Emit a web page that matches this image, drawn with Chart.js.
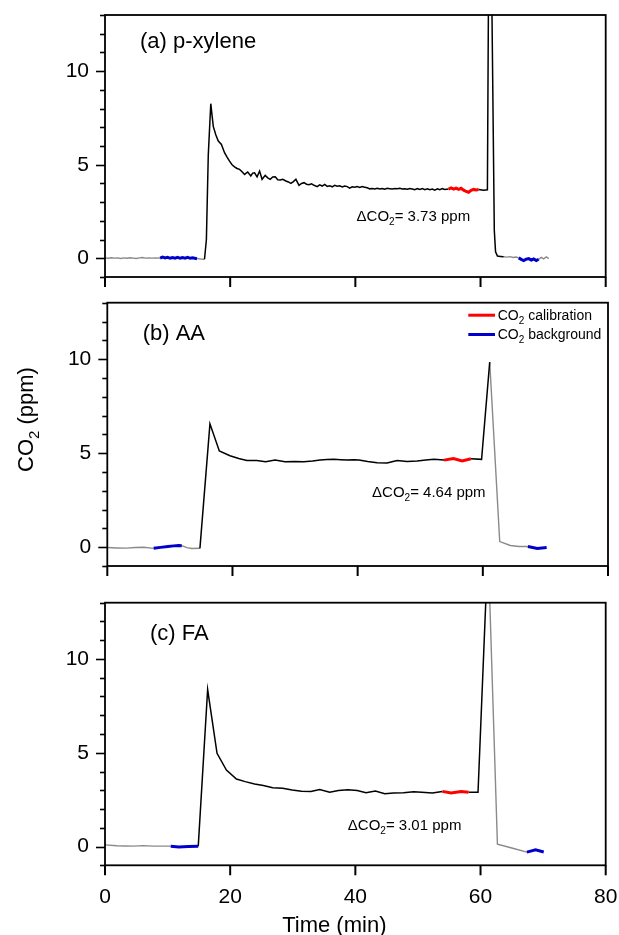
<!DOCTYPE html>
<html>
<head>
<meta charset="utf-8">
<script src="https://cdn.jsdelivr.net/npm/chart.js@4.4.1/dist/chart.umd.min.js"></script>
<style>
  html, body { margin: 0; padding: 0; background: #fff; }
  #fig { position: relative; width: 619px; height: 935px; }
  #fig canvas { position: absolute; left: 0; }
</style>
</head>
<body>
<div id="fig">
  <canvas id="panelA" width="619" height="290" style="top:0px"></canvas>
  <canvas id="panelB" width="619" height="290" style="top:290px"></canvas>
  <canvas id="panelC" width="619" height="355" style="top:580px"></canvas>
</div>
<script>
// ---- shared axis settings ----
const timeTicks = [0, 20, 40, 60, 80];
const co2LabelTicks = [0, 5, 10];

// ---- (a) p-xylene ----
const xyleneTime = [
  0.0, 0.5, 1.0, 1.5, 2.0, 2.5, 3.0, 3.5, 4.0, 4.5, 5.0, 5.5, 6.0, 6.5, 7.0, 7.5, 8.0, 8.8,
  9.2, 9.6, 10.0, 10.4, 10.8, 11.2, 11.6, 12.0, 12.4, 12.8, 13.2, 13.6, 14.0, 14.7,
  15.3, 15.9,
  16.2, 16.5, 16.9, 17.3, 17.7, 18.1, 18.6, 19.1, 19.5, 19.9, 20.3, 20.7, 21.1, 21.5, 21.9,
  22.3, 22.8, 23.3, 23.6, 23.9, 24.3, 24.7, 25.1, 25.6, 26.0, 26.4, 26.8, 27.2, 27.6, 28.0,
  28.4, 28.9, 29.3, 29.7, 30.1, 30.5, 31.0, 31.4, 31.8, 32.2, 32.6, 33.0, 33.4, 33.9, 34.3,
  34.7, 35.1, 35.5, 35.9, 36.3, 36.7, 37.1, 37.5, 37.9, 38.3, 38.7, 39.1, 39.5, 39.9, 40.3,
  40.7, 41.1, 41.5, 41.9, 42.3, 42.7, 43.1, 43.5, 43.9, 44.3, 44.7, 45.1, 45.5, 45.9, 46.3,
  46.7, 47.1, 47.5, 47.9, 48.3, 48.7, 49.1, 49.5, 49.9, 50.3, 50.7, 51.1, 51.5, 51.9, 52.3,
  52.7, 53.1, 53.5, 53.9, 54.3, 54.9,
  55.3, 55.7, 56.1, 56.5, 56.9, 57.3, 57.7, 58.1, 58.5, 58.9, 59.3, 59.7,
  60.5, 61.1, 61.45, 62.2, 62.4, 62.7, 63.2, 63.7,
  64.2, 64.7, 65.2, 65.7, 66.1,
  66.5, 66.9, 67.3, 67.7, 68.1, 68.5, 68.9, 69.3,
  69.7, 70.1, 70.5, 70.9
];
const xyleneCO2 = [
  0.02, 0.00, 0.03, 0.01, 0.02, -0.01, 0.02, 0.00, 0.03, 0.01, -0.01, 0.02, 0.04, 0.01, 0.02, 0.01, 0.02, 0.01,
  0.06, 0.02, 0.05, 0.00, 0.04, 0.01, 0.05, 0.00, 0.04, 0.01, 0.05, 0.00, 0.03, -0.02,
  -0.04, -0.05,
  1.00, 5.50, 8.26, 7.05, 6.60, 6.26, 6.08, 5.64, 5.40, 5.19, 5.00, 4.89, 4.80, 4.75, 4.62,
  4.48, 4.61, 4.40, 4.55, 4.57, 4.35, 4.66, 4.22, 4.43, 4.30, 4.22, 4.34, 4.36, 4.20, 4.18,
  4.22, 4.13, 4.08, 4.00, 4.10, 4.22, 3.90, 4.00, 4.04, 3.96, 3.93, 3.98, 3.90, 3.83, 3.92,
  3.86, 3.95, 3.84, 3.88, 3.82, 3.90, 3.85, 3.87, 3.81, 3.86, 3.83, 3.75, 3.82, 3.80, 3.84,
  3.79, 3.83, 3.80, 3.77, 3.71, 3.73, 3.70, 3.74, 3.70, 3.73, 3.69, 3.74, 3.72, 3.70, 3.73,
  3.71, 3.74, 3.70, 3.72, 3.69, 3.73, 3.70, 3.66, 3.72, 3.68, 3.73, 3.67, 3.71, 3.66, 3.70,
  3.64, 3.71, 3.66, 3.72, 3.68, 3.70,
  3.76, 3.70, 3.75, 3.68, 3.74, 3.64, 3.57, 3.53, 3.63, 3.68, 3.65, 3.67,
  3.64, 3.66, 25.0, 1.50, 0.35, 0.12, 0.10, 0.08,
  0.06, 0.09, 0.04, 0.07, 0.02,
  -0.06, -0.12, -0.05, -0.02, -0.10, -0.04, -0.12, -0.05,
  0.05, -0.03, 0.08, -0.02
];
const xyleneBackground = [[8.8, 14.7], [66.1, 69.3]];
const xyleneCalibration = [[54.9, 59.7]];
const xyleneSample = [[15.9, 63.7]];

// ---- (b) AA ----
const aaTime = [
  0.0, 1.5, 3.1, 4.5, 5.8, 7.4,
  8.5, 9.7, 10.6, 11.4, 11.9,
  12.7, 13.5, 14.8,
  16.4, 17.9, 19.6, 21.0, 22.3, 23.9, 25.3, 26.8, 28.4, 29.9, 31.4, 32.8, 34.0, 35.1, 36.2,
  37.3, 38.3, 39.4, 40.2, 41.6, 43.1, 44.7, 46.3, 47.9, 49.5, 50.9, 52.2, 53.8,
  55.3, 56.7, 58.1,
  59.8, 61.1,
  62.7, 64.4, 65.8, 67.2,
  68.7, 70.2
];
const aaCO2 = [
  -0.02, -0.04, -0.05, -0.02, 0.00, -0.06,
  -0.01, 0.04, 0.07, 0.09, 0.08,
  -0.02, -0.07, -0.06,
  6.56, 5.12, 4.86, 4.72, 4.61, 4.61, 4.54, 4.63, 4.54, 4.56, 4.54, 4.58, 4.63, 4.66, 4.67,
  4.65, 4.63, 4.65, 4.64, 4.56, 4.49, 4.48, 4.61, 4.56, 4.58, 4.63, 4.67, 4.63,
  4.71, 4.59, 4.70,
  4.67, 9.84,
  0.30, 0.09, 0.04, 0.04,
  -0.07, -0.02
];
const aaBackground = [[7.4, 11.9], [67.2, 70.2]];
const aaCalibration = [[53.8, 58.1]];
const aaSample = [[14.8, 61.1]];

// ---- (c) FA ----
const faTime = [
  0.0, 1.9, 3.2, 4.5, 6.1, 7.7, 9.0, 10.5,
  11.8, 13.3, 14.9,
  16.4, 17.9, 19.4, 21.0, 22.4, 23.9, 25.3, 26.8, 28.4, 29.9, 31.4, 32.9, 34.3, 35.9, 37.3,
  38.8, 40.3, 41.7, 43.2, 44.7, 46.1, 47.7, 49.3, 50.6, 52.3, 53.9,
  55.3, 56.9, 58.1,
  59.6, 61.2,
  62.7, 65.0, 67.4,
  68.8, 70.1
];
const faCO2 = [
  0.09, 0.04, 0.03, 0.02, 0.05, 0.02, 0.02, 0.02,
  -0.02, 0.00, 0.02,
  8.37, 4.97, 4.08, 3.60, 3.46, 3.34, 3.25, 3.14, 3.11, 3.02, 2.95, 2.93, 3.04, 2.89, 2.99,
  3.03, 2.99, 2.87, 2.96, 2.82, 2.85, 2.87, 2.92, 2.89, 2.85, 2.94,
  2.85, 2.94, 2.89,
  2.89, 16.0,
  0.13, -0.08, -0.30,
  -0.18, -0.29
];
const faBackground = [[10.5, 14.9], [67.4, 70.1]];
const faCalibration = [[53.9, 58.1]];
const faSample = [[14.9, 61.2]];

// ---- text ----
const panelTitles = ['(a) p-xylene', '(b) AA', '(c) FA'];
const deltaValues = ['3.73', '4.64', '3.01'];
// anchor of each ΔCO2 note, in data units (time, ppm)
const deltaAnchors = [[40.2, 2.0], [42.3, 2.66], [38.8, 0.89]];

// ---------------------------------------------------------------
const FONT = "'Liberation Sans', Arial, Helvetica, sans-serif";
Chart.defaults.font.family = FONT;
Chart.defaults.color = '#000';

const lineStyle = {
  baseline:    { color: '#8a8a8a', width: 1.4, order: 3 },
  sample:      { color: '#000000', width: 1.5, order: 2 },
  background:  { color: '#0000cc', width: 3.0, order: 1 },
  calibration: { color: '#ff0000', width: 3.0, order: 0 }
};

// split a trace into runs of baseline / sample / background / calibration
function splitTrace(times, vals, ranges) {
  const inside = (list, t) => list.some(([a, b]) => t >= a && t <= b);
  const kindAt = t => inside(ranges.calibration, t) ? 'calibration'
                    : inside(ranges.background, t) ? 'background'
                    : inside(ranges.sample, t) ? 'sample' : 'baseline';
  const runs = [];
  for (let i = 0; i < times.length - 1; i++) {
    const kind = kindAt((times[i] + times[i + 1]) / 2);
    let run = runs[runs.length - 1];
    if (!run || run.kind !== kind) {
      run = { kind, pts: [{ x: times[i], y: vals[i] }] };
      runs.push(run);
    }
    run.pts.push({ x: times[i + 1], y: vals[i + 1] });
  }
  return runs.map(r => ({
    data: r.pts,
    borderColor: lineStyle[r.kind].color,
    borderWidth: lineStyle[r.kind].width,
    order: lineStyle[r.kind].order,
    pointRadius: 0,
    tension: 0,
    fill: false
  }));
}

// text with subscripts; parts = [[text, isSub], ...]
function drawRich(ctx, parts, x, y, size) {
  let cx = x;
  ctx.textAlign = 'left';
  ctx.textBaseline = 'alphabetic';
  for (const [t, sub] of parts) {
    ctx.font = `${sub ? Math.round(size * 0.68) : size}px ${FONT}`;
    ctx.fillText(t, cx, y + (sub ? size * 0.27 : 0));
    cx += ctx.measureText(t).width;
  }
}

// frame, tick marks and per-panel text
function panelDecor(cfg) {
  return {
    id: 'panelDecor',
    afterDraw(chart) {
      const { ctx, chartArea: ca, scales } = chart;
      const xs = scales.x, ys = scales.y;
      ctx.save();
      ctx.strokeStyle = '#000';
      ctx.fillStyle = '#000';
      // y ticks: every ppm, longer at labelled ones
      ctx.lineWidth = 1.6;
      for (let v = ys.min; v <= ys.max; v++) {
        const py = Math.round(ys.getPixelForValue(v)) + 0.5;
        const len = v % 5 === 0 ? 9 : 5;
        ctx.beginPath();
        ctx.moveTo(ca.left, py);
        ctx.lineTo(ca.left - len, py);
        ctx.stroke();
      }
      // x ticks
      ctx.lineWidth = 2;
      for (const v of timeTicks) {
        const px = xs.getPixelForValue(v);
        ctx.beginPath();
        ctx.moveTo(px, ca.bottom);
        ctx.lineTo(px, ca.bottom + 10);
        ctx.stroke();
      }
      // frame
      ctx.lineWidth = 1.8;
      ctx.strokeRect(ca.left, ca.top, ca.right - ca.left, ca.bottom - ca.top);

      // panel title
      ctx.font = `22px ${FONT}`;
      ctx.textAlign = 'left';
      ctx.textBaseline = 'alphabetic';
      ctx.fillText(cfg.title, ca.left + cfg.titleDx, ca.top + cfg.titleDy);

      // ΔCO2 note
      const [at, av] = cfg.deltaAnchor;
      drawRich(ctx, [['\u0394CO', false], ['2', true], ['= ' + cfg.delta + ' ppm', false]],
        xs.getPixelForValue(at), ys.getPixelForValue(av), 15);

      if (cfg.legend) {
        const items = [['calibration', lineStyle.calibration.color], ['background', lineStyle.background.color]];
        items.forEach(([name, col], i) => {
          const ly = ca.top + 12.5 + i * 19.3;
          ctx.strokeStyle = col;
          ctx.lineWidth = 3;
          ctx.beginPath();
          ctx.moveTo(ca.right - 139.7, ly);
          ctx.lineTo(ca.right - 113, ly);
          ctx.stroke();
          ctx.fillStyle = '#000';
          drawRich(ctx, [['CO', false], ['2', true], [' ' + name, false]], ca.right - 110.3, ly + 4.6, 14);
        });
      }

      if (cfg.yTitle) {
        // vertical axis title, shared by the three panels
        ctx.save();
        ctx.translate(33, cfg.yTitleStart);
        ctx.rotate(-Math.PI / 2);
        ctx.fillStyle = '#000';
        drawRich(ctx, [['CO', false], ['2', true], [' (ppm)', false]], 0, 0, 22);
        ctx.restore();
      }

      if (cfg.xTitle) {
        ctx.font = `22px ${FONT}`;
        ctx.textAlign = 'center';
        ctx.textBaseline = 'alphabetic';
        ctx.fillStyle = '#000';
        ctx.fillText('Time (min)', ca.left + (ca.right - ca.left) * 0.458, ca.bottom + 66.4);
      }
      ctx.restore();
    }
  };
}

function makePanel(id, trace, cfg) {
  const datasets = splitTrace(trace.times, trace.vals, trace.ranges);
  new Chart(document.getElementById(id), {
    type: 'line',
    data: { datasets },
    options: {
      responsive: false,
      animation: false,
      events: [],
      layout: { padding: { left: 0, right: cfg.padRight, top: cfg.padTop, bottom: 0 } },
      plugins: { legend: { display: false }, tooltip: { enabled: false } },
      scales: {
        x: {
          type: 'linear', min: 0, max: 80,
          afterBuildTicks: s => { s.ticks = timeTicks.map(v => ({ value: v })); },
          afterFit: s => { s.height = cfg.xHeight; s.paddingLeft = s.paddingRight = s.paddingTop = s.paddingBottom = 0; },
          grid: { display: false, drawTicks: false },
          border: { display: false },
          ticks: { display: cfg.xLabels, padding: 19, maxRotation: 0, autoSkip: false, font: { size: 21 }, color: '#000' }
        },
        y: {
          type: 'linear', min: -1, max: 13,
          afterBuildTicks: s => { s.ticks = co2LabelTicks.map(v => ({ value: v })); },
          afterFit: s => { s.width = cfg.yWidth; s.paddingLeft = s.paddingRight = s.paddingTop = s.paddingBottom = 0; },
          grid: { display: false, drawTicks: false },
          border: { display: false },
          ticks: { padding: 16, autoSkip: false, font: { size: 21 }, color: '#000' }
        }
      }
    },
    plugins: [panelDecor(cfg)]
  });
}

makePanel('panelA',
  { times: xyleneTime, vals: xyleneCO2,
    ranges: { background: xyleneBackground, calibration: xyleneCalibration, sample: xyleneSample } },
  { title: panelTitles[0], titleDx: 35, titleDy: 33.3, delta: deltaValues[0], deltaAnchor: deltaAnchors[0],
    padRight: 13.3, padTop: 15, xHeight: 13, yWidth: 105, xLabels: false });

makePanel('panelB',
  { times: aaTime, vals: aaCO2,
    ranges: { background: aaBackground, calibration: aaCalibration, sample: aaSample } },
  { title: panelTitles[1], titleDx: 35.4, titleDy: 37.3, delta: deltaValues[1], deltaAnchor: deltaAnchors[1],
    padRight: 11, padTop: 12.7, xHeight: 14, yWidth: 107.3, xLabels: false,
    legend: true, yTitle: true, yTitleStart: 182 });

makePanel('panelC',
  { times: faTime, vals: faCO2,
    ranges: { background: faBackground, calibration: faCalibration, sample: faSample } },
  { title: panelTitles[2], titleDx: 45, titleDy: 37.3, delta: deltaValues[2], deltaAnchor: deltaAnchors[2],
    padRight: 13.3, padTop: 22.7, xHeight: 69.7, yWidth: 105, xLabels: true, xTitle: true });
</script>
</body>
</html>
